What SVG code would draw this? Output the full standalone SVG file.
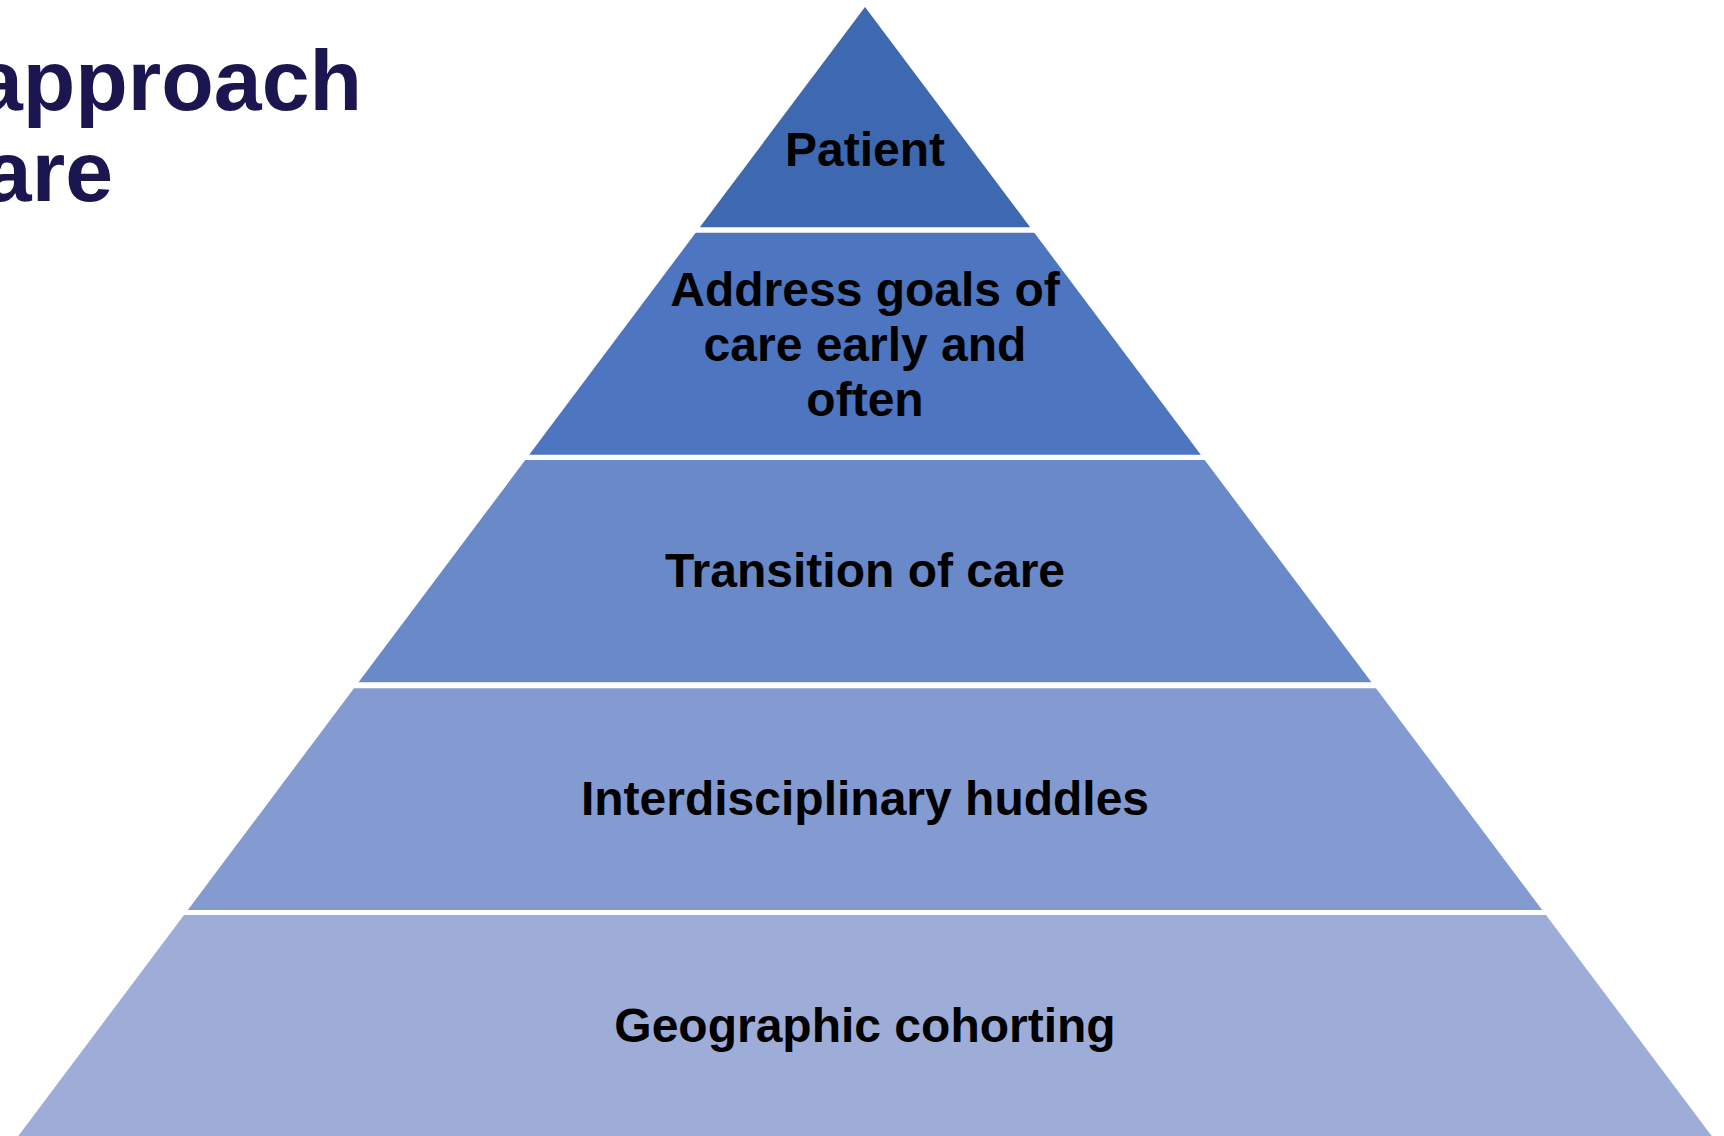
<svg xmlns="http://www.w3.org/2000/svg" width="1724" height="1136" viewBox="0 0 1724 1136">
<style>
.lbl{font-family:"Liberation Sans",Arial,sans-serif;font-weight:bold;font-size:48px;fill:#000;text-anchor:middle}
.title{font-family:"Liberation Sans",Arial,sans-serif;font-weight:bold;font-size:86px;fill:#1B1650;text-anchor:end}
</style>
<rect width="1724" height="1136" fill="#fff"/>
<g id="title">
<text class="title" x="362" y="110">approach</text>
<text class="title" x="113" y="201">are</text>
</g>
<g id="layer1">
<polygon points="865,7 1030.2,227.3 699.8,227.3" fill="#3E68B0"/>
<text class="lbl" x="865" y="166">Patient</text>
</g>
<g id="layer2">
<polygon points="695.7,232.7 1034.3,232.7 1200.8,454.7 529.2,454.7" fill="#4E75BF"/>
<text class="lbl" x="865" y="306">Address goals of</text>
<text class="lbl" x="865" y="361">care early and</text>
<text class="lbl" x="865" y="416">often</text>
</g>
<g id="layer3">
<polygon points="525.3,460 1204.7,460 1371.5,682.3 358.5,682.3" fill="#6A89C8"/>
<text class="lbl" x="865" y="587">Transition of care</text>
</g>
<g id="layer4">
<polygon points="354,688.3 1376,688.3 1542.2,910 187.8,910" fill="#849BD2"/>
<text class="lbl" x="865" y="815">Interdisciplinary huddles</text>
</g>
<g id="layer5">
<polygon points="184,915 1546,915 1716.2,1142 13.8,1142" fill="#9EADD8"/>
<text class="lbl" x="865" y="1042">Geographic cohorting</text>
</g>
<g id="connectors"/>
</svg>
